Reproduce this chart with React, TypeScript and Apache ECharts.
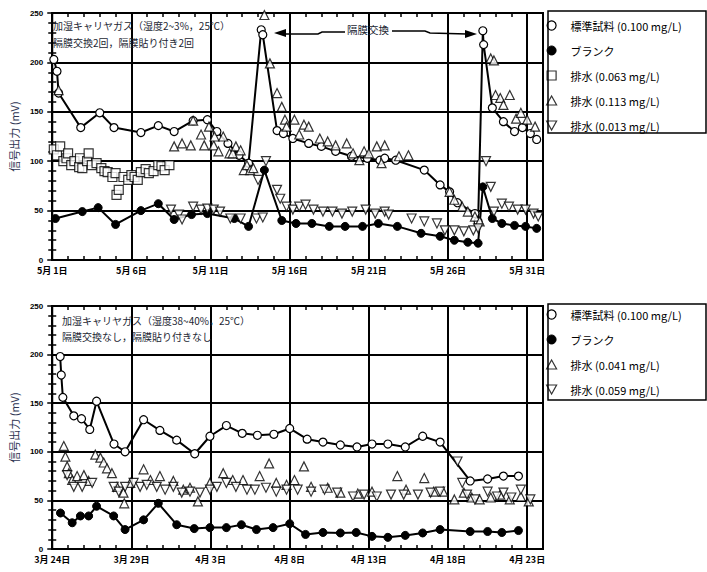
import React, { useEffect, useRef } from "react";
import * as echarts from "echarts";

// ---------- tick labels ----------
const topTickLabels = ["5月 1日", "5月 6日", "5月 11日", "5月 16日", "5月 21日", "5月 26日", "5月 31日"];
const bottomTickLabels = ["3月 24日", "3月 29日", "4月 3日", "4月 8日", "4月 13日", "4月 18日", "4月 23日"];

// ---------- series names ----------
const nameStd = "標準試料 (0.100 mg/L)";
const nameBlank = "ブランク";
const nameTopA = "排水 (0.063 mg/L)";
const nameTopB = "排水 (0.113 mg/L)";
const nameTopC = "排水 (0.013 mg/L)";
const nameBotA = "排水 (0.041 mg/L)";
const nameBotB = "排水 (0.059 mg/L)";

// ---------- top chart data: [days since 5/1, mV] ----------
const topStd = [
  [0.1, 203], [0.3, 191], [0.4, 169], [1.8, 134], [3.0, 149], [3.9, 134], [5.6, 129], [6.7, 136], [7.7, 130],
  [8.9, 141], [9.8, 142], [10.4, 130], [11.1, 118], [11.8, 106], [12.4, 98], [13.2, 233], [13.3, 228],
  [14.2, 131], [14.6, 128], [15.2, 123], [16.2, 118], [17.0, 115], [17.9, 110], [18.9, 105], [19.9, 103],
  [20.7, 101], [21.0, 103], [21.7, 101], [23.5, 91], [24.5, 76], [25.1, 69], [25.6, 58], [26.7, 47], [26.9, 39],
  [27.2, 232], [27.25, 218], [27.8, 154], [28.5, 140], [29.2, 130], [29.7, 134], [30.2, 128], [30.6, 122],
];
const topBlank = [
  [0.2, 42], [1.9, 49], [2.9, 53], [4.0, 36], [5.6, 50], [6.7, 57], [7.7, 41], [8.8, 46], [9.8, 47], [11.5, 42],
  [12.4, 34], [13.4, 91], [14.5, 40], [15.4, 37], [16.4, 37], [17.5, 34], [18.5, 34], [19.6, 34], [20.6, 37],
  [21.8, 34], [23.3, 27], [24.5, 24], [25.4, 20], [26.25, 18], [26.9, 17], [27.2, 74], [27.8, 42], [28.4, 37],
  [29.2, 35], [29.9, 34], [30.6, 32],
];
const topWasteA = [
  [0.1, 112], [0.3, 106], [0.5, 115], [0.7, 100], [0.9, 103], [1.0, 108], [1.2, 96], [1.4, 100], [1.7, 94],
  [1.75, 103], [1.9, 93], [2.2, 100], [2.3, 108], [2.5, 96], [2.8, 98], [3.1, 93], [3.3, 90], [3.5, 89],
  [3.8, 84], [4.0, 88], [4.06, 66], [4.2, 71], [4.5, 84], [4.8, 81], [5.0, 86], [5.2, 84], [5.4, 81], [5.6, 89],
  [5.9, 92], [6.1, 88], [6.4, 90], [6.7, 96], [6.9, 95], [7.1, 91], [7.4, 96],
];
const topWasteB = [
  [0.4, 172], [7.7, 115], [8.2, 118], [8.75, 116], [8.9, 141], [9.4, 127], [9.6, 116], [9.9, 135], [10.2, 116],
  [10.25, 125], [10.5, 110], [10.8, 125], [11.2, 108], [11.4, 108], [11.6, 115], [11.9, 111], [12.1, 91],
  [12.3, 96], [12.5, 91], [12.7, 93], [13.4, 248], [13.75, 199], [14.2, 169], [14.5, 155], [14.7, 142],
  [14.8, 135], [15.3, 142], [15.6, 127], [15.9, 137], [16.2, 135], [16.9, 123], [17.4, 120], [17.9, 116],
  [18.6, 118], [19.0, 108], [19.4, 101], [19.7, 110], [20.0, 108], [20.5, 115], [20.8, 98], [21.0, 116],
  [21.9, 105], [22.5, 106], [25.1, 69], [25.4, 61], [25.9, 54], [26.25, 49], [26.7, 44], [27.0, 39],
  [27.7, 204], [27.9, 202], [28.0, 167], [28.3, 164], [28.5, 157], [28.9, 167], [29.3, 143], [29.6, 149],
  [30.0, 142], [30.5, 135],
];
const topWasteC = [
  [7.5, 51], [8.0, 46], [8.2, 41], [8.9, 54], [9.4, 51], [9.8, 52], [10.2, 51], [10.6, 49], [11.25, 42],
  [11.9, 42], [12.9, 42], [13.0, 81], [13.3, 43], [13.5, 100], [14.2, 71], [14.4, 62], [14.8, 54], [15.2, 51],
  [15.6, 54], [16.0, 56], [16.5, 51], [17.1, 49], [17.7, 49], [18.3, 47], [18.95, 49], [19.8, 51], [20.4, 47],
  [21.0, 49], [21.25, 46], [22.7, 42], [23.5, 39], [24.3, 37], [24.8, 30], [25.4, 30], [26.0, 29], [26.6, 30],
  [26.9, 32], [27.4, 100], [27.7, 74], [27.9, 49], [28.4, 57], [28.85, 54], [29.4, 51], [29.9, 51], [30.4, 47],
  [30.7, 44],
];

// ---------- bottom chart data: [days since 3/24, mV] ----------
const botStd = [
  [0.5, 198], [0.57, 179], [0.67, 156], [1.36, 137], [1.85, 134], [2.37, 123], [2.8, 152], [3.9, 108],
  [4.6, 100], [5.77, 133], [6.8, 122], [7.86, 112], [9.0, 98], [9.96, 116], [11.0, 127], [12.0, 119],
  [12.96, 117], [14.0, 118], [15.0, 124], [16.1, 113], [17.1, 110], [18.2, 107], [19.25, 105], [20.2, 108],
  [21.2, 108], [22.3, 105], [23.4, 116], [24.5, 110], [26.4, 70], [27.5, 72], [28.5, 75], [29.45, 75],
];
const botBlank = [
  [0.52, 37], [1.26, 27], [1.78, 34], [2.3, 34], [2.8, 44], [3.88, 34], [4.6, 20], [5.77, 30], [6.7, 47],
  [7.86, 25], [8.97, 21], [9.96, 22], [11.0, 22], [11.95, 25], [12.9, 20], [13.95, 22], [15.0, 26], [16.0, 15],
  [17.1, 17], [18.2, 16.5], [19.2, 17], [20.2, 13], [21.2, 12], [22.3, 14], [23.4, 16.5], [24.5, 20], [26.4, 18],
  [27.5, 18], [28.4, 17], [29.45, 19],
];
const botWasteA = [
  [0.73, 106], [0.83, 95], [0.94, 85], [1.05, 78], [1.26, 71], [1.57, 75], [2.0, 76], [2.3, 70], [2.72, 97],
  [3.04, 94], [3.25, 89], [3.46, 83], [3.77, 78], [4.09, 64], [4.5, 58], [4.55, 47], [4.93, 68], [5.77, 82],
  [6.2, 71], [6.8, 75], [7.65, 70], [8.28, 61], [8.7, 63], [9.2, 49], [9.96, 68], [10.8, 78], [11.4, 71],
  [12.05, 71], [13.1, 75], [13.7, 88], [14.15, 68], [14.8, 66], [15.3, 71], [15.9, 85], [16.35, 64], [17.4, 63],
  [18.2, 58], [19.3, 57], [20.2, 59], [21.8, 75], [22.35, 61], [23.5, 73], [24.1, 59], [24.7, 59], [25.4, 51],
  [26.0, 58], [26.5, 53], [27.0, 51], [27.7, 53], [28.3, 56], [28.9, 51], [29.6, 54], [30.1, 49],
];
const botWasteB = [
  [0.94, 76], [1.36, 64], [1.89, 64], [2.52, 68], [3.88, 64], [4.2, 59], [4.6, 64], [5.14, 68], [5.55, 64],
  [5.97, 66], [6.6, 64], [7.13, 61], [7.65, 64], [8.18, 58], [8.7, 59], [9.33, 58], [9.96, 61], [10.4, 64],
  [11.0, 68], [11.6, 64], [12.3, 61], [12.8, 61], [13.5, 63], [14.15, 59], [14.8, 61], [15.5, 61], [16.35, 59],
  [17.2, 61], [18.0, 58], [19.0, 54], [19.7, 56], [20.5, 54], [21.4, 56], [22.2, 56], [23.1, 56], [23.9, 58],
  [24.5, 59], [25.6, 90], [25.9, 68], [26.2, 56], [26.7, 51], [27.5, 59], [28.1, 54], [28.5, 58], [29.0, 53],
  [29.6, 61], [30.2, 51],
];

const FONT = '"Noto Sans CJK JP", "Noto Sans", sans-serif';
const DOWN_TRI = "path://M0,0L10,0L5,9Z";
const UP_TRI = "path://M5,0L10,9L0,9Z";
const SQUARE = "path://M0,0L10,0L10,10L0,10Z";

const openStyle = { color: "#fff", borderColor: "#000", borderWidth: 1.2 };
const filledStyle = { color: "#000", borderColor: "#000", borderWidth: 1 };

function makeXAxes(gridIndex: number, labels: string[]) {
  return [
    {
      type: "value", gridIndex, min: 0, max: 31, interval: 5, position: "bottom",
      axisLine: { show: true, onZero: false, lineStyle: { color: "#000", width: 2 } },
      axisTick: { show: true, inside: true, length: 5, lineStyle: { color: "#000", width: 1.5 } },
      minorTick: { show: true, splitNumber: 5, length: 4, lineStyle: { color: "#000", width: 1.5 } },
      splitLine: { show: true, lineStyle: { color: "#000", width: 2 } },
      axisLabel: {
        formatter: (v: number) => (Math.abs(v % 5) < 1e-6 ? labels[Math.round(v / 5)] ?? "" : ""),
        fontSize: 9, fontWeight: "bold", color: "#000", margin: 6, fontFamily: FONT,
      },
    },
    {
      type: "value", gridIndex, min: 0, max: 31, interval: 5, position: "top",
      axisLine: { show: true, onZero: false, lineStyle: { color: "#000", width: 2 } },
      axisTick: { show: true, inside: true, length: 5, lineStyle: { color: "#000", width: 1.5 } },
      minorTick: { show: true, splitNumber: 5, length: 4, lineStyle: { color: "#000", width: 1.5 } },
      splitLine: { show: false },
      axisLabel: { show: false },
    },
  ];
}

function makeYAxes(gridIndex: number) {
  return [
    {
      type: "value", gridIndex, min: 0, max: 250, interval: 50, position: "left",
      name: "信号出力 (mV)", nameLocation: "middle", nameGap: 30, nameRotate: 90,
      nameTextStyle: { fontSize: 11, color: "#2e3553", fontFamily: FONT },
      axisLine: { show: true, lineStyle: { color: "#000", width: 2 } },
      axisTick: { show: true, inside: true, length: 5, lineStyle: { color: "#000", width: 1.5 } },
      minorTick: { show: true, splitNumber: 5, length: 4, lineStyle: { color: "#000", width: 1.5 } },
      splitLine: { show: true, lineStyle: { color: "#000", width: 2 } },
      axisLabel: { fontSize: 8, fontWeight: "bold", color: "#000", margin: 9, fontFamily: "Liberation Sans" },
    },
    {
      type: "value", gridIndex, min: 0, max: 250, interval: 50, position: "right",
      axisLine: { show: true, lineStyle: { color: "#000", width: 2 } },
      axisTick: { show: true, inside: true, length: 5, lineStyle: { color: "#000", width: 1.5 } },
      minorTick: { show: true, splitNumber: 5, length: 4, lineStyle: { color: "#000", width: 1.5 } },
      splitLine: { show: false },
      axisLabel: { show: false },
    },
  ];
}

function lineSeries(name: string, data: number[][], xi: number, yi: number, filled: boolean) {
  return {
    type: "line", name, data, xAxisIndex: xi, yAxisIndex: yi,
    symbol: "circle", symbolSize: 8, showAllSymbol: true,
    lineStyle: { color: "#000", width: 2 },
    itemStyle: filled ? filledStyle : openStyle,
    z: 3,
  };
}

function scatterSeries(name: string, data: number[][], xi: number, yi: number, symbol: string, size = 8) {
  return {
    type: "scatter", name, data, xAxisIndex: xi, yAxisIndex: yi,
    symbol, symbolSize: size, itemStyle: openStyle, z: 4,
  };
}

function legendItem(name: string, icon: string, filled = false) {
  return { name, icon, itemStyle: filled ? filledStyle : openStyle };
}

export default function App() {
  const ref = useRef<HTMLDivElement>(null);

  useEffect(() => {
    if (!ref.current) return;
    const chart = echarts.init(ref.current, null, { renderer: "svg" });
    const legendCommon = {
      orient: "vertical", padding: 0, itemWidth: 28, itemHeight: 9, itemGap: 12, selectedMode: false,
      textStyle: { fontSize: 11, color: "#000", fontFamily: FONT, lineHeight: 13 },
    };
    chart.setOption({
      animation: false,
      backgroundColor: "#fff",
      textStyle: { fontFamily: FONT },
      grid: [
        { left: 50, top: 13, width: 493, height: 247, show: true, borderColor: "#000", borderWidth: 2 },
        { left: 50, top: 306, width: 493, height: 243, show: true, borderColor: "#000", borderWidth: 2 },
      ],
      xAxis: [...makeXAxes(0, topTickLabels), ...makeXAxes(1, bottomTickLabels)],
      yAxis: [...makeYAxes(0), ...makeYAxes(1)],
      legend: [
        {
          ...legendCommon, left: 546, top: 19,
          data: [
            legendItem(nameStd, "circle"), legendItem(nameBlank, "circle", true),
            legendItem(nameTopA, SQUARE), legendItem(nameTopB, UP_TRI), legendItem(nameTopC, DOWN_TRI),
          ],
        },
        {
          ...legendCommon, left: 546, top: 308,
          data: [
            legendItem(nameStd, "circle"), legendItem(nameBlank, "circle", true),
            legendItem(nameBotA, UP_TRI), legendItem(nameBotB, DOWN_TRI),
          ],
        },
      ],
      series: [
        scatterSeries(nameTopA, topWasteA, 0, 0, SQUARE, 9),
        scatterSeries(nameTopB, topWasteB, 0, 0, UP_TRI, 9),
        scatterSeries(nameTopC, topWasteC, 0, 0, DOWN_TRI, 9),
        lineSeries(nameStd, topStd, 0, 0, false),
        lineSeries(nameBlank, topBlank, 0, 0, true),
        scatterSeries(nameBotA, botWasteA, 2, 2, UP_TRI, 9),
        scatterSeries(nameBotB, botWasteB, 2, 2, DOWN_TRI, 9),
        lineSeries(nameStd, botStd, 2, 2, false),
        lineSeries(nameBlank, botBlank, 2, 2, true),
      ],
      graphic: [
        { type: "rect", shape: { x: 548, y: 11, width: 158, height: 122 }, style: { fill: "none", stroke: "#000", lineWidth: 1.5 }, z: 10 },
        { type: "rect", shape: { x: 548, y: 304, width: 158, height: 96 }, style: { fill: "none", stroke: "#000", lineWidth: 1.5 }, z: 10 },
        { type: "text", x: 53, y: 20, style: { text: "加湿キャリヤガス（湿度2~3%，25℃）", fontSize: 10, fill: "#1c1f33", fontFamily: FONT }, z: 10 },
        { type: "text", x: 53, y: 37, style: { text: "隔膜交換2回，隔膜貼り付き2回", fontSize: 10, fill: "#1c1f33", fontFamily: FONT }, z: 10 },
        { type: "text", x: 62, y: 315, style: { text: "加湿キャリヤガス（湿度38~40%，25℃）", fontSize: 10, fill: "#1c1f33", fontFamily: FONT }, z: 10 },
        { type: "text", x: 62, y: 331, style: { text: "隔膜交換なし，隔膜貼り付きなし", fontSize: 10, fill: "#1c1f33", fontFamily: FONT }, z: 10 },
        { type: "text", x: 347, y: 24, style: { text: "隔膜交換", fontSize: 10.5, fill: "#1c1f33", fontFamily: FONT }, z: 10 },
        { type: "polyline", shape: { points: [[284, 34], [318, 34], [322, 32], [345, 32]] }, style: { stroke: "#000", lineWidth: 1.5, fill: "none" }, z: 10 },
        { type: "polygon", shape: { points: [[274, 33], [286, 29], [286, 37]] }, style: { fill: "#000" }, z: 10 },
        { type: "polyline", shape: { points: [[392, 31], [425, 31], [430, 33], [467, 34]] }, style: { stroke: "#000", lineWidth: 1.5, fill: "none" }, z: 10 },
        { type: "polygon", shape: { points: [[477, 34], [465, 30], [465, 38]] }, style: { fill: "#000" }, z: 10 },
      ],
    });
    return () => chart.dispose();
  }, []);

  return <div ref={ref} style={{ position: "absolute", left: 0, top: 0, width: 707, height: 572 }} />;
}
